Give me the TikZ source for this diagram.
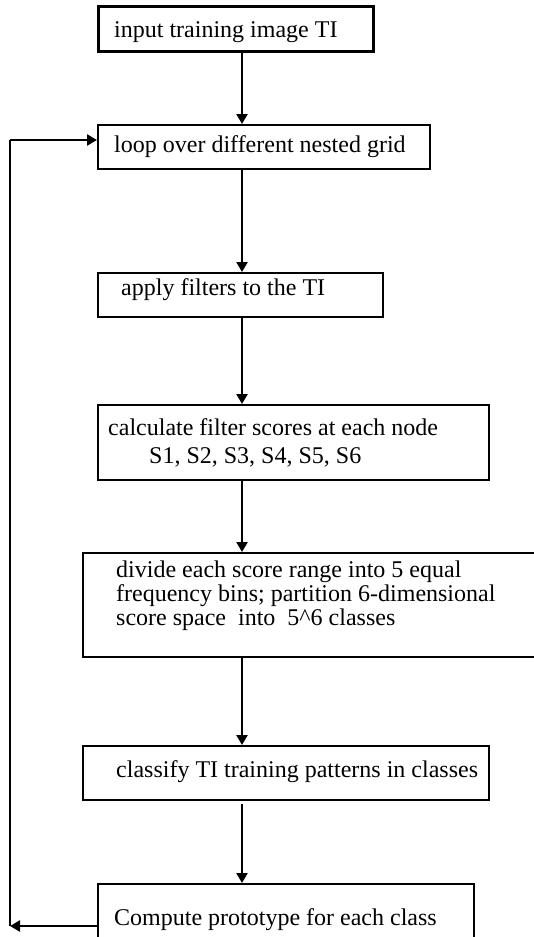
\documentclass[tikz,border=0pt]{standalone}
\usepackage{fontspec}
\setmainfont{Liberation Serif}
\usetikzlibrary{arrows.meta}
\begin{document}
\begin{tikzpicture}[x=1pt,y=-1pt,
  box/.style={draw=black, line width=1.8pt, anchor=north west, inner sep=0pt},
  txt/.style={anchor=base west, inner sep=0pt, font=\fontsize{24}{24}\selectfont},
  flow/.style={line width=2.6pt, -{Triangle[length=10pt,width=11pt]}},
  loopline/.style={line width=2.6pt}]
\useasboundingbox (0,0) rectangle (534,937);
\clip (0,0) rectangle (534,937);
\fill[white] (0,0) rectangle (534,937);
% boxes
\node[box, line width=3pt, minimum width=275pt, minimum height=45pt] (b1) at (97,5) {};
\node[box, minimum width=332pt, minimum height=44pt] (b2) at (97,124) {};
\node[box, minimum width=285pt, minimum height=44pt] (b3) at (97,272) {};
\node[box, minimum width=391pt, minimum height=75pt] (b4) at (97,404) {};
\node[box, minimum width=480pt, minimum height=104pt] (b5) at (82,552) {};
\node[box, minimum width=406pt, minimum height=54pt] (b6) at (82,745) {};
\node[box, minimum width=376pt, minimum height=80pt] (b7) at (97,883) {};
% texts
\node[txt] (t1) at (114,37) {input training image TI};
\node[txt] (t2) at (114,152) {loop over different nested grid};
\node[txt] (t3) at (121,295) {apply filters to the TI};
\node[txt] (t4a) at (108,435) {calculate filter scores at each node};
\node[txt] (t4b) at (149,463) {S1, S2, S3, S4, S5, S6};
\node[txt] (t5a) at (116,577) {divide each score range into 5 equal};
\node[txt] (t5b) at (116,601) {frequency bins; partition 6-dimensional};
\node[txt] (t5c) at (116,625) {score space\ \ into\ \ 5\^{}6 classes};
\node[txt] (t6) at (116,777) {classify TI training patterns in classes};
\node[txt] (t7) at (114,925) {Compute prototype for each class};
% connectors
\coordinate (x) at (242,0);
\draw[flow] (b1.south -| x) -- (b2.north -| x);
\draw[flow] (b2.south -| x) -- (b3.north -| x);
\draw[flow] (b3.south -| x) -- (b4.north -| x);
\draw[flow] (b4.south -| x) -- (b5.north -| x);
\draw[flow] (b5.south -| x) -- (b6.north -| x);
\coordinate (s6) at (242,804);
\draw[flow] (s6) -- (b7.north -| x);
% loop back
\coordinate (lb) at (10,926);
\coordinate (lt) at (10,140);
\draw[flow] (b7.west |- lb) -- (lb);
\draw[loopline] (lb) -- (lt);
\draw[flow] (lt) -- (b2.west |- lt);
\end{tikzpicture}
\end{document}
